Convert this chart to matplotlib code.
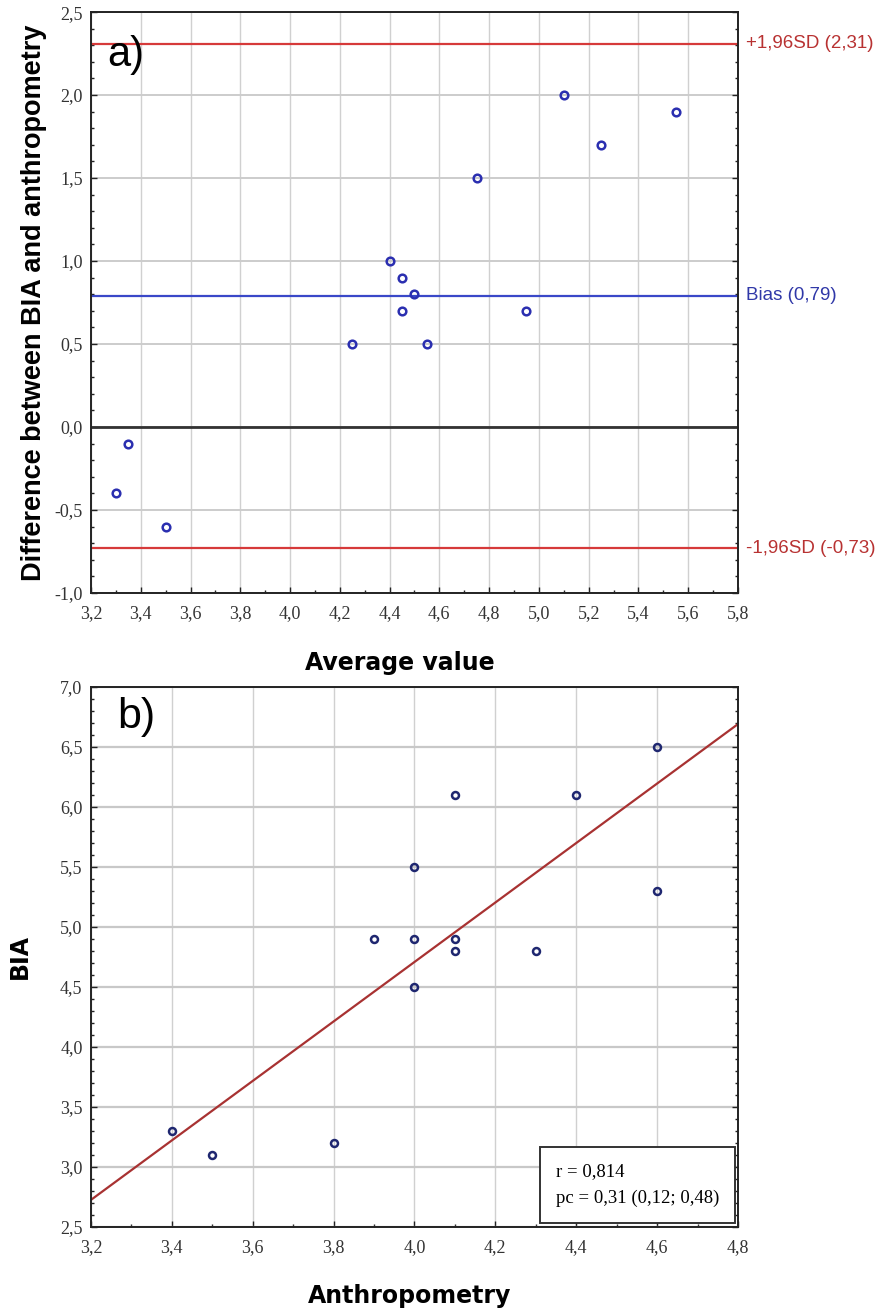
import matplotlib
matplotlib.use("Agg")
import matplotlib.pyplot as plt
import numpy as np
from matplotlib.ticker import MultipleLocator, FuncFormatter

# ---------------- data ----------------
# Panel a) Bland-Altman
avg_value = [5.10, 5.55, 5.25, 4.75, 4.40, 4.45, 4.50, 4.45, 4.95, 4.25, 4.55, 3.35, 3.30, 3.50]
difference = [2.0, 1.9, 1.7, 1.5, 1.0, 0.9, 0.8, 0.7, 0.7, 0.5, 0.5, -0.1, -0.4, -0.6]
bias = 0.79
upper_loa = 2.31
lower_loa = -0.73
loa_labels = ["+1,96SD (2,31)", "Bias (0,79)", "-1,96SD (-0,73)"]

# Panel b) correlation
anthropometry = [4.6, 4.1, 4.4, 4.0, 4.6, 3.9, 4.0, 4.1, 4.1, 4.3, 4.0, 3.4, 3.5, 3.8]
bia = [6.5, 6.1, 6.1, 5.5, 5.3, 4.9, 4.9, 4.9, 4.8, 4.8, 4.5, 3.3, 3.1, 3.2]
stats_text = "r = 0,814\npc = 0,31 (0,12; 0,48)"

# ---------------- fonts ----------------
sans = "Liberation Sans"
serif = "Liberation Serif"
plt.rcParams["font.family"] = ["Liberation Sans", "DejaVu Sans"]

comma = FuncFormatter(lambda v, p: ("%.1f" % v).replace(".", ","))

fig = plt.figure(figsize=(8.9, 13.15), dpi=100)

def style_axes(ax):
    ax.grid(True, which="major", color="#d0d0d0", lw=1.0)
    ax.set_axisbelow(True)
    ax.tick_params(which="both", direction="in", top=False, right=True, colors="#222222",
                   labelsize=13)
    ax.tick_params(axis="x", which="both", pad=9)
    ax.tick_params(axis="y", which="both", pad=6)
    ax.tick_params(which="major", length=4, width=1)
    ax.tick_params(which="minor", length=2.5, width=1)
    for lab in ax.get_xticklabels() + ax.get_yticklabels():
        lab.set_fontfamily(serif)
        lab.set_color("#333333")
    for s in ax.spines.values():
        s.set_color("#222222")
        s.set_linewidth(1.4)
    ax.xaxis.set_major_formatter(comma)
    ax.yaxis.set_major_formatter(comma)

# ---------------- panel a ----------------
ax1 = fig.add_axes([0.1022, 0.549, 0.727, 0.4418])
ax1.set_xlim(3.2, 5.8)
ax1.set_ylim(-1.0, 2.5)
ax1.xaxis.set_major_locator(MultipleLocator(0.2))
ax1.xaxis.set_minor_locator(MultipleLocator(0.1))
ax1.yaxis.set_major_locator(MultipleLocator(0.5))
ax1.yaxis.set_minor_locator(MultipleLocator(0.1))
style_axes(ax1)
ax1.grid(True, which="major", axis="y", color="#cccccc", lw=1.4)
ax1.axhline(0.0, color="#333333", lw=2.0, zorder=2)
ax1.axhline(upper_loa, color="#d63a3a", lw=1.6, zorder=2)
ax1.axhline(lower_loa, color="#d63a3a", lw=1.6, zorder=2)
ax1.axhline(bias, color="#3a48c8", lw=1.6, zorder=2)
ax1.plot(avg_value, difference, "o", ms=5.5, mfc="none", mec="#2b2fb0", mew=1.8, zorder=3)
ax1.text(1.012, upper_loa, loa_labels[0], transform=ax1.get_yaxis_transform(),
         color="#b83232", fontsize=13.5, family=sans, va="center", ha="left")
ax1.text(1.012, bias, loa_labels[1], transform=ax1.get_yaxis_transform(),
         color="#3038a8", fontsize=13.5, family=sans, va="center", ha="left")
ax1.text(1.012, lower_loa, loa_labels[2], transform=ax1.get_yaxis_transform(),
         color="#b83232", fontsize=13.5, family=sans, va="center", ha="left")
ax1.text(0.025, 0.926, "a)", transform=ax1.transAxes, fontsize=30, family=sans,
         va="center", ha="left")
ax1.set_xlabel("Average value", fontsize=17, fontweight="bold", family="DejaVu Sans")
ax1.xaxis.set_label_coords(0.478, -0.1)
ax1.set_ylabel("Difference between BIA and anthropometry", fontsize=19.5,
               fontweight="bold", family=sans, labelpad=5)

# ---------------- panel b ----------------
ax2 = fig.add_axes([0.1022, 0.0669, 0.727, 0.4107])
ax2.set_xlim(3.2, 4.8)
ax2.set_ylim(2.5, 7.0)
ax2.xaxis.set_major_locator(MultipleLocator(0.2))
ax2.xaxis.set_minor_locator(MultipleLocator(0.1))
ax2.yaxis.set_major_locator(MultipleLocator(0.5))
ax2.yaxis.set_minor_locator(MultipleLocator(0.1))
style_axes(ax2)
ax2.grid(True, which="major", axis="y", color="#c8c8c8", lw=1.6)
slope, intercept = np.polyfit(anthropometry, bia, 1)
xl = np.array(ax2.get_xlim())
ax2.plot(xl, slope * xl + intercept, color="#a83232", lw=1.6, zorder=2)
ax2.plot(anthropometry, bia, "o", ms=5, mfc="none", mec="#1f2770", mew=1.8, zorder=3)
ax2.text(0.04, 0.945, "b)", transform=ax2.transAxes, fontsize=31, family=sans,
         va="center", ha="left")
ax2.text(0.719, 0.078, stats_text, transform=ax2.transAxes, fontsize=13.5, family=serif,
         va="center", ha="left", linespacing=1.7,
         bbox=dict(boxstyle="square,pad=0.85", fc="white", ec="#333333", lw=1.4))
ax2.set_xlabel("Anthropometry", fontsize=17, fontweight="bold", family="DejaVu Sans")
ax2.xaxis.set_label_coords(0.493, -0.105)
ax2.set_ylabel("BIA", fontsize=17, fontweight="bold", family="DejaVu Sans", labelpad=20)

fig.savefig("out.png", dpi=100)
